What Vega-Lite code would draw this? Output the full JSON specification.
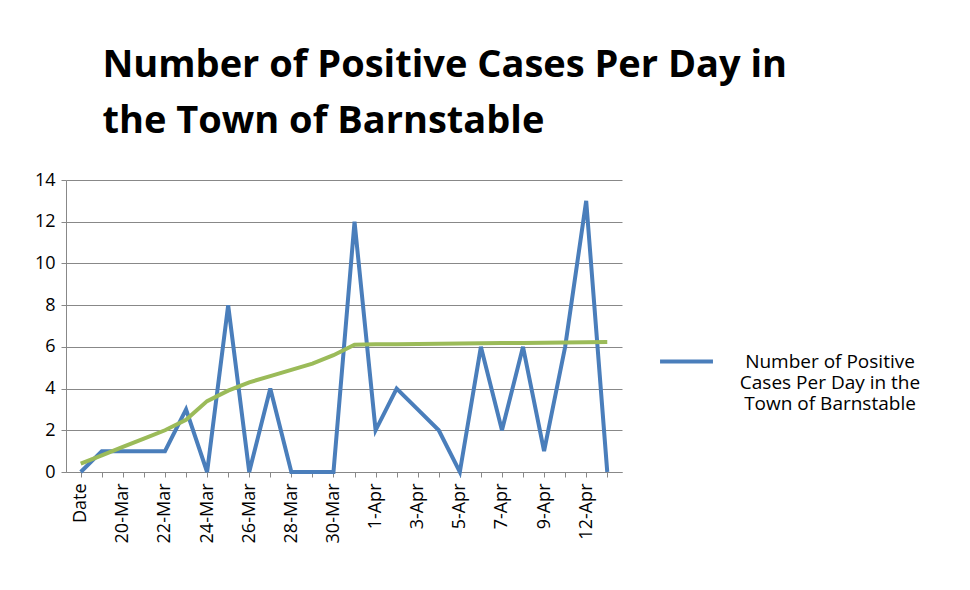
{
  "$schema": "https://vega.github.io/schema/vega-lite/v6.json",
  "width": 556,
  "height": 292,
  "autosize": "none",
  "padding": {"left": 66, "top": 180, "right": 348, "bottom": 118},
  "background": "white",
  "title": {
    "text": ["Number of Positive Cases Per Day in", "the Town of Barnstable"],
    "font": "Open Sans",
    "fontSize": 38,
    "fontWeight": "bold",
    "color": "black",
    "anchor": "start",
    "dx": 68,
    "align": "left",
    "offset": 30,
    "lineHeight": 56
  },
  "config": {"view": {"stroke": null}, "font": "Open Sans"},
  "data": {
    "values": [
      {"d": "Date", "i": 0, "cases": 0, "trend": 0.4},
      {"d": "19-Mar", "i": 1, "cases": 1, "trend": 0.8},
      {"d": "20-Mar", "i": 2, "cases": 1, "trend": 1.2},
      {"d": "21-Mar", "i": 3, "cases": 1, "trend": 1.6},
      {"d": "22-Mar", "i": 4, "cases": 1, "trend": 2.0},
      {"d": "23-Mar", "i": 5, "cases": 3, "trend": 2.5},
      {"d": "24-Mar", "i": 6, "cases": 0, "trend": 3.4},
      {"d": "25-Mar", "i": 7, "cases": 8, "trend": 3.9},
      {"d": "26-Mar", "i": 8, "cases": 0, "trend": 4.3},
      {"d": "27-Mar", "i": 9, "cases": 4, "trend": 4.6},
      {"d": "28-Mar", "i": 10, "cases": 0, "trend": 4.9},
      {"d": "29-Mar", "i": 11, "cases": 0, "trend": 5.2},
      {"d": "30-Mar", "i": 12, "cases": 0, "trend": 5.6},
      {"d": "31-Mar", "i": 13, "cases": 12, "trend": 6.1},
      {"d": "1-Apr", "i": 14, "cases": 2, "trend": 6.12},
      {"d": "2-Apr", "i": 15, "cases": 4, "trend": 6.13},
      {"d": "3-Apr", "i": 16, "cases": 3, "trend": 6.14},
      {"d": "4-Apr", "i": 17, "cases": 2, "trend": 6.15},
      {"d": "5-Apr", "i": 18, "cases": 0, "trend": 6.16},
      {"d": "6-Apr", "i": 19, "cases": 6, "trend": 6.17},
      {"d": "7-Apr", "i": 20, "cases": 2, "trend": 6.18},
      {"d": "8-Apr", "i": 21, "cases": 6, "trend": 6.19},
      {"d": "9-Apr", "i": 22, "cases": 1, "trend": 6.2},
      {"d": "10-Apr", "i": 23, "cases": 6, "trend": 6.21},
      {"d": "12-Apr", "i": 24, "cases": 13, "trend": 6.22},
      {"d": "13-Apr", "i": 25, "cases": 0, "trend": 6.23}
    ]
  },
  "encoding": {
    "x": {
      "field": "d",
      "type": "ordinal",
      "sort": {"field": "i"},
      "scale": {"type": "point", "padding": 0.7},
      "axis": {
        "title": null,
        "labelAngle": -90,
        "labelFontSize": 18,
        "labelColor": "black",
        "labelExpr": "indexof(['Date','20-Mar','22-Mar','24-Mar','26-Mar','28-Mar','30-Mar','1-Apr','3-Apr','5-Apr','7-Apr','9-Apr','12-Apr'], datum.value) >= 0 ? datum.value : ''",
        "domainColor": "#888",
        "tickColor": "#888",
        "labelPadding": 6
      }
    }
  },
  "layer": [
    {
      "mark": {"type": "line", "strokeWidth": 4, "color": "#4a7ebb"},
      "encoding": {
        "y": {
          "field": "cases",
          "type": "quantitative",
          "scale": {"domain": [0, 14]},
          "axis": {
            "title": null,
            "values": [0, 2, 4, 6, 8, 10, 12, 14],
            "labelFontSize": 18,
            "labelColor": "black",
            "gridColor": "#888",
            "domainColor": "#888",
            "tickColor": "#888",
            "labelPadding": 6
          }
        },
        "color": {
          "datum": "Number of Positive Cases Per Day in the Town of Barnstable",
          "type": "nominal",
          "scale": {"range": ["#4a7ebb"]},
          "legend": {
            "title": null,
            "orient": "none",
            "legendX": 592,
            "legendY": 153,
            "symbolType": "stroke",
            "symbolStrokeWidth": 4,
            "symbolSize": 2800,
            "labelFontSize": 19,
            "labelColor": "black",
            "labelLimit": 400,
            "labelAlign": "center",
            "labelOffset": 115,
            "labelExpr": "['Number of Positive', 'Cases Per Day in the', 'Town of Barnstable']"
          }
        }
      }
    },
    {
      "mark": {"type": "line", "strokeWidth": 4, "color": "#9bbb59"},
      "encoding": {"y": {"field": "trend", "type": "quantitative"}}
    }
  ]
}
